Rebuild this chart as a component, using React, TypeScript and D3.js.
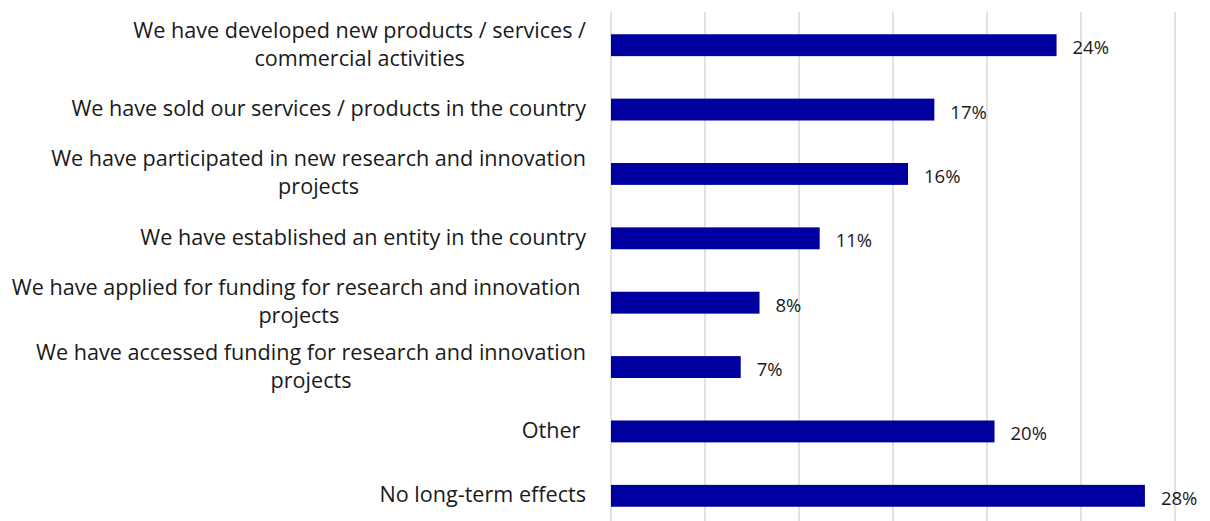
import React, { useMemo } from "react";
import * as d3 from "d3";

const categories = [
  "We have developed new products / services / commercial activities",
  "We have sold our services / products in the country",
  "We have participated in new research and innovation projects",
  "We have established an entity in the country",
  "We have applied for funding for research and innovation projects",
  "We have accessed funding for research and innovation projects",
  "Other",
  "No long-term effects",
];

const labelLines: string[][] = [
  ["We have developed new products / services /", "commercial activities"],
  ["We have sold our services / products in the country"],
  ["We have participated in new research and innovation", "projects"],
  ["We have established an entity in the country"],
  ["We have applied for funding for research and innovation ", "projects"],
  ["We have accessed funding for research and innovation", "projects"],
  ["Other "],
  ["No long-term effects"],
];

const values = [23.7, 17.2, 15.8, 11.1, 7.9, 6.9, 20.4, 28.4];
const valueLabels = ["24%", "17%", "16%", "11%", "8%", "7%", "20%", "28%"];
const gridTicks = [0, 5, 10, 15, 20, 25, 30];

const W = 1210;
const H = 521;
const LABEL_FONT = "'Open Sans', Lato, sans-serif";
const VALUE_FONT = "'Open Sans', Lato, sans-serif";
const LABEL_SIZE = 21.6;
const VALUE_SIZE = 18.5;
const BAR_COLOR = "#0000A0";
const TEXT_COLOR = "#1a1a1a";

export default function App() {
  const x = d3.scaleLinear().domain([0, 30]).range([611, 1175]);
  const y = d3
    .scaleBand<string>()
    .domain(categories)
    .range([13, 528])
    .paddingInner(0.66)
    .paddingOuter(0.33);

  const widths = useMemo(() => {
    const c = document.createElement("canvas").getContext("2d")!;
    c.font = `${LABEL_SIZE}px ${LABEL_FONT}`;
    return labelLines.map((ls) => Math.max(...ls.map((l) => c.measureText(l).width)));
  }, []);

  const labelRight = 586;
  const lineH = 28;

  return (
    <div style={{ position: "absolute", left: 0, top: 0 }}>
      <svg width={W} height={H} style={{ display: "block", background: "#fff" }}>
        {gridTicks.map((t) => (
          <line
            key={t}
            x1={x(t)}
            x2={x(t)}
            y1={12}
            y2={H}
            stroke="#D9D9D9"
            strokeWidth={1.5}
          />
        ))}
        {categories.map((c, i) => {
          const y0 = y(c)!;
          const bw = y.bandwidth();
          const cy = y0 + bw / 2;
          const lines = labelLines[i];
          const cx = labelRight - widths[i] / 2;
          return (
            <g key={c}>
              <rect x={x(0)} y={y0} width={x(values[i]) - x(0)} height={bw} fill={BAR_COLOR} />
              <text
                x={x(values[i]) + 16}
                y={cy + 9}
                fontFamily={VALUE_FONT}
                fontSize={VALUE_SIZE}
                fill={TEXT_COLOR}
              >
                {valueLabels[i]}
              </text>
              {lines.map((l, j) => (
                <text
                  key={j}
                  x={cx}
                  y={cy + 6.5 + (j - (lines.length - 1) / 2) * lineH}
                  textAnchor="middle"
                  fontFamily={LABEL_FONT}
                  fontSize={LABEL_SIZE}
                  fill={TEXT_COLOR}
                  style={{ whiteSpace: "pre" }}
                >
                  {l}
                </text>
              ))}
            </g>
          );
        })}
      </svg>
    </div>
  );
}
